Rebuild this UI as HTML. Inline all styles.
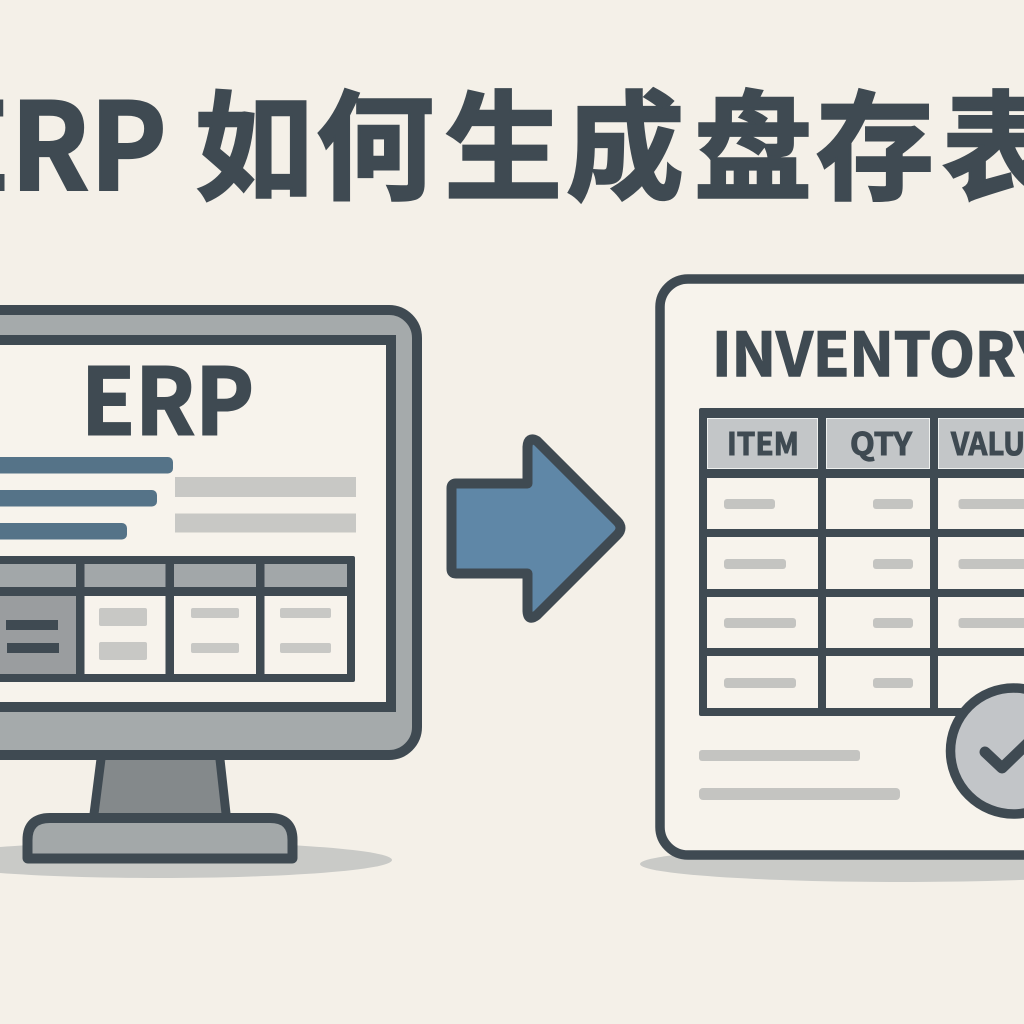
<!DOCTYPE html>
<html><head><meta charset="utf-8"><style>
html,body{margin:0;padding:0;background:#f4f0e8;}
svg{display:block;}
text{font-family:"Noto Sans CJK SC","Liberation Sans",sans-serif;font-weight:700;fill:#3f4a52;stroke:#3f4a52;stroke-linejoin:miter;}
</style></head><body>
<svg width="1024" height="1024" viewBox="0 0 1024 1024" xmlns="http://www.w3.org/2000/svg">
<rect width="1024" height="1024" fill="#f4f0e8"/>
<!-- title -->
<text x="-61" y="190" font-size="121" textLength="228" lengthAdjust="spacingAndGlyphs" stroke-width="2">ERP</text>
<text x="195 316 444 566 694 816 942" y="190" font-size="118" stroke-width="2.500">如何生成盘存表</text>

<!-- shadows -->
<ellipse cx="160" cy="860" rx="232" ry="18" fill="#c9cac7"/>
<ellipse cx="900" cy="864" rx="260" ry="18" fill="#c9cac7"/>

<!-- monitor stand -->
<path d="M101.500 755 L93.500 818 H226.500 L219.500 755 Z" fill="#84898b" stroke="#3f4a52" stroke-width="9"/>
<path d="M27.500 858 V840 Q27.500 818 50 818 H270 Q292.500 818 292.500 840 V858 Q292.500 858.500 292 858.500 H28 Q27.500 858.500 27.500 858 Z" fill="#a3a8a9" stroke="#3f4a52" stroke-width="10" stroke-linejoin="round"/>

<!-- monitor -->
<rect x="-100" y="310" width="517" height="445" rx="28" fill="#a5aaab" stroke="#3f4a52" stroke-width="10"/>
<rect x="-50" y="340" width="441" height="367" fill="#f7f3ec" stroke="#3f4a52" stroke-width="10"/>
<text x="81" y="434.500" font-size="92" textLength="173" lengthAdjust="spacingAndGlyphs" stroke-width="2">ERP</text>
<rect x="-10" y="457" width="183" height="16.500" rx="5" fill="#557388"/>
<rect x="-10" y="490" width="167" height="16.500" rx="5" fill="#557388"/>
<rect x="-10" y="523" width="137" height="16.500" rx="5" fill="#557388"/>
<rect x="175" y="477" width="181" height="20" fill="#c8c8c5"/>
<rect x="175" y="513.500" width="181" height="19" fill="#c8c8c5"/>

<!-- monitor table -->
<rect x="-10" y="556" width="365" height="126" rx="2" fill="#3f4a52"/>
<rect x="-10" y="564" width="86" height="23" fill="#a2a7a9"/>
<rect x="84.500" y="564" width="81" height="23" fill="#a2a7a9"/>
<rect x="174" y="564" width="82" height="23" fill="#a2a7a9"/>
<rect x="264.500" y="564" width="82.500" height="23" fill="#a2a7a9"/>
<rect x="-10" y="596" width="86" height="78" fill="#9a9d9f"/>
<rect x="84.500" y="596" width="81" height="78" fill="#f7f3ec"/>
<rect x="174" y="596" width="82" height="78" fill="#f7f3ec"/>
<rect x="264.500" y="596" width="82.500" height="78" fill="#f7f3ec"/>
<rect x="6" y="620" width="52" height="10" fill="#3f4a52"/>
<rect x="7" y="643" width="52" height="10" fill="#3f4a52"/>
<rect x="99" y="608" width="48" height="18" rx="2" fill="#c8c8c5"/>
<rect x="99" y="642" width="48" height="18" rx="2" fill="#c8c8c5"/>
<rect x="191" y="608" width="48" height="10" rx="2" fill="#c8c8c5"/>
<rect x="191" y="643" width="48" height="10" rx="2" fill="#c8c8c5"/>
<rect x="280" y="608" width="51" height="10" rx="2" fill="#c8c8c5"/>
<rect x="280" y="643" width="51" height="10" rx="2" fill="#c8c8c5"/>

<!-- arrow -->
<path d="M451.500 488 Q451.500 483.500 456 483.500 H527.500 V447 Q528 436 537 441 L617 521 Q624 528 617 535 L537 615 Q528 622 527.500 611 V573.500 H456 Q451.500 573.500 451.500 569 Z" fill="#5f87a7" stroke="#3f4a52" stroke-width="10" stroke-linejoin="round"/>

<!-- document -->
<rect x="660" y="279" width="500" height="576" rx="28" fill="#f7f3ec" stroke="#3f4a52" stroke-width="9.500"/>
<text x="712" y="376" font-size="60" textLength="337" lengthAdjust="spacingAndGlyphs" stroke-width="1.500">INVENTORY</text>

<!-- document table -->
<rect x="699" y="408" width="400" height="308" rx="2" fill="#3f4a52"/>
<g fill="#c3c6c8" stroke="#eef0ee" stroke-width="1">
<rect x="707.500" y="418.500" width="110" height="50"/>
<rect x="826.500" y="418.500" width="103" height="50"/>
<rect x="938.500" y="418.500" width="120" height="50"/>
</g>
<g fill="#f7f3ec">
<rect x="707" y="478" width="111" height="51"/><rect x="826" y="478" width="104" height="51"/><rect x="938" y="478" width="120" height="51"/>
<rect x="707" y="537" width="111" height="52"/><rect x="826" y="537" width="104" height="52"/><rect x="938" y="537" width="120" height="52"/>
<rect x="707" y="597" width="111" height="51"/><rect x="826" y="597" width="104" height="51"/><rect x="938" y="597" width="120" height="51"/>
<rect x="707" y="656" width="111" height="52"/><rect x="826" y="656" width="104" height="52"/><rect x="938" y="656" width="120" height="52"/>
</g>
<text x="727" y="455" font-size="31" textLength="72" lengthAdjust="spacingAndGlyphs" stroke-width="1">ITEM</text>
<text x="850" y="455" font-size="31" textLength="62" lengthAdjust="spacingAndGlyphs" stroke-width="1">QTY</text>
<text x="951" y="455" font-size="31" textLength="92" lengthAdjust="spacingAndGlyphs" stroke-width="1">VALUE</text>
<g fill="#c4c4c1">
<rect x="724" y="499" width="51" height="10" rx="3"/>
<rect x="873" y="499" width="40" height="10" rx="3"/>
<rect x="958.500" y="499" width="80" height="10" rx="3"/>
<rect x="724" y="559" width="62" height="10" rx="3"/>
<rect x="873" y="559" width="40" height="10" rx="3"/>
<rect x="958.500" y="559" width="80" height="10" rx="3"/>
<rect x="724" y="618" width="72" height="10" rx="3"/>
<rect x="873" y="618" width="40" height="10" rx="3"/>
<rect x="958.500" y="618" width="80" height="10" rx="3"/>
<rect x="724" y="678" width="72" height="10" rx="3"/>
<rect x="873" y="678" width="40" height="10" rx="3"/>
<rect x="699" y="750" width="161" height="11" rx="3"/>
<rect x="699" y="788" width="201" height="12" rx="4"/>
</g>

<!-- check badge -->
<circle cx="1013.500" cy="751" r="63" fill="#c2c5c8" stroke="#3f4a52" stroke-width="9.500"/>
<path d="M985 752 L1002 768 L1032 739" fill="none" stroke="#3f4a52" stroke-width="11" stroke-linecap="round" stroke-linejoin="round"/>
</svg>
</body></html>
